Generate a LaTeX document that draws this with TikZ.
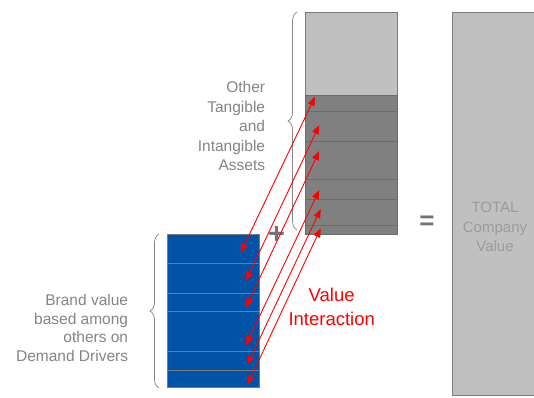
\documentclass[tikz,border=0pt]{standalone}
\usepackage{fontspec}
\setmainfont{Liberation Sans}
\usetikzlibrary{arrows.meta,decorations.pathreplacing}
\definecolor{txtgray}{HTML}{858585}
\definecolor{lightbox}{HTML}{C0C0C0}
\definecolor{darkbox}{HTML}{808080}
\definecolor{darkline}{HTML}{6C6C6C}
\definecolor{boxborder}{HTML}{7A7A7A}
\definecolor{brandblue}{HTML}{0053A6}
\definecolor{totaltxt}{HTML}{9C9C9C}
\definecolor{opgray}{HTML}{737373}
\definecolor{redarrow}{HTML}{FF0000}
\tikzset{
  lbl/.style={text=txtgray, font=\fontsize{15.5}{19.5}\selectfont, align=right, inner sep=0pt},
  totlbl/.style={text=totaltxt, font=\fontsize{15}{19.7}\selectfont, align=center, inner sep=0pt},
  redlbl/.style={text=redarrow, font=\fontsize{18.5}{24.3}\selectfont, align=center, inner sep=0pt},
  oplbl/.style={text=opgray, font=\bfseries\fontsize{26}{26}\selectfont, inner sep=0pt},
  valarrow/.style={draw=redarrow, line width=0.9pt, {Triangle[length=9pt,width=7pt]}-{Triangle[length=9pt,width=7pt]}},
  gbrace/.style={draw=txtgray, line width=0.7pt, decorate, decoration={brace, amplitude=9pt, aspect=0.5}},
  segline/.style={draw=boxborder, line width=0.7pt},
  darkseg/.style={draw=darkline, line width=0.7pt}
}
\begin{document}
\begin{tikzpicture}[x=1pt,y=-1pt]
\useasboundingbox (0,0) rectangle (534,397);
\clip (0,0) rectangle (534,397);
\fill[white] (0,0) rectangle (534,397);
% total company value box
\draw[fill=lightbox, draw=boxborder, line width=0.8pt] (452.7,12.3) rectangle (540,395.5);
\node[totlbl] (total) at (495,227) {TOTAL\\Company\\Value};
% other assets column
\draw[fill=lightbox, draw=boxborder, line width=0.8pt] (305,12.3) rectangle (397,95.7);
\draw[fill=darkbox, draw=darkline, line width=0.8pt] (305,95.7) rectangle (397.7,234.3);
\foreach \yy in {111,141.7,179.3,199.3,225.7} \draw[darkseg] (305,\yy) -- (397.7,\yy);
% brand column
\draw[fill=brandblue, draw=boxborder, line width=0.8pt] (167.7,234.3) rectangle (259.3,387.7);
\foreach \yy in {263.7,293.3,311,351.7,370.7} \draw[segline] (167.7,\yy) -- (259.3,\yy);
% braces
\coordinate (b1s) at (159,388);
\coordinate (b1e) at (159,234);
\coordinate (b2s) at (297,230);
\coordinate (b2e) at (297,12);
\draw[gbrace] (b1s) -- (b1e);
\draw[gbrace] (b2s) -- (b2e);
% labels
\node[lbl, anchor=east] (other) at (265.3,126) {Other\\Tangible\\and\\Intangible\\Assets};
\node[lbl, anchor=east, font=\fontsize{15.5}{18.8}\selectfont] (brand) at (128.3,328) {Brand value\\based among\\others on\\Demand Drivers};
\node[redlbl] (vi) at (331.7,307) {Value\\Interaction};
\node[oplbl, font=\bfseries\fontsize{29}{29}\selectfont] (plus) at (276.7,234.5) {+};
\node[oplbl] (eq) at (427,222.8) {=};
% arrow end points
\coordinate (l1) at (240.7,252.7); \coordinate (u1) at (315,96.7);
\coordinate (l2) at (246,280.7);   \coordinate (u2) at (319.3,125);
\coordinate (l3) at (246,307.3);   \coordinate (u3) at (319.3,151);
\coordinate (l4) at (246,345);     \coordinate (u4) at (319.3,190);
\coordinate (l5) at (247.3,365);   \coordinate (u5) at (320.7,209);
\coordinate (l6) at (247.3,385);   \coordinate (u6) at (320.7,228.3);
\foreach \i in {1,...,6} \draw[valarrow] (l\i) -- (u\i);
\end{tikzpicture}
\end{document}
